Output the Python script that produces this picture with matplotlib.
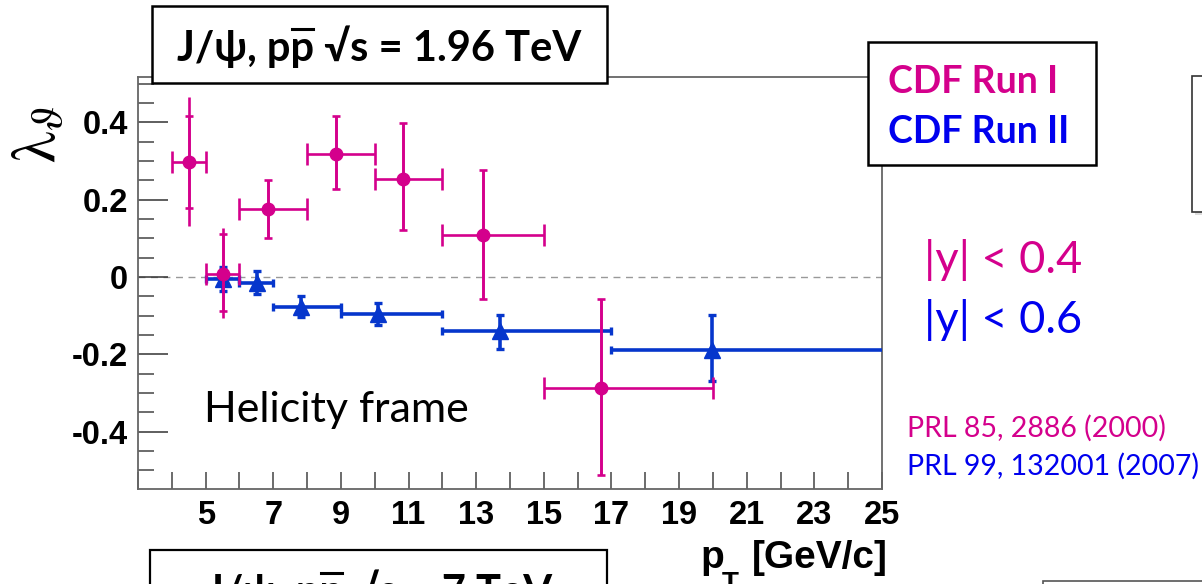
import matplotlib
matplotlib.use("Agg")
import matplotlib.pyplot as plt
from matplotlib.lines import Line2D
from matplotlib.patches import Rectangle
from matplotlib.ticker import MultipleLocator

# CDF Run I (|y| < 0.4), PRL 85, 2886 (2000)
run1_pt = [4.5, 5.5, 6.85, 8.85, 10.83, 13.2, 16.7]
run1_pt_lo = [4, 5, 6, 8, 10, 12, 15]
run1_pt_hi = [5, 6, 8, 10, 12, 15, 20]
run1_lam = [0.297, 0.008, 0.175, 0.319, 0.254, 0.108, -0.287]
run1_stat_up = [0.119, 0.103, 0.077, 0.096, 0.144, 0.168, 0.229]
run1_stat_dn = [0.118, 0.096, 0.073, 0.091, 0.133, 0.166, 0.224]
run1_tot_up = [0.168, 0.119, 0.077, 0.096, 0.144, 0.168, 0.229]
run1_tot_dn = [0.165, 0.113, 0.073, 0.091, 0.133, 0.166, 0.224]

# CDF Run II (|y| < 0.6), PRL 99, 132001 (2007)
run2_pt = [5.52, 6.53, 7.81, 10.11, 13.71, 19.97]
run2_pt_lo = [5, 6, 7, 9, 12, 17]
run2_pt_hi = [6, 7, 9, 12, 17, 30]
run2_lam = [-0.005, -0.015, -0.077, -0.096, -0.140, -0.189]
run2_err_up = [0.032, 0.031, 0.027, 0.030, 0.042, 0.091]
run2_err_dn = [0.030, 0.030, 0.027, 0.028, 0.047, 0.081]

x_ticks = [5, 7, 9, 11, 13, 15, 17, 19, 21, 23, 25]
y_ticks = [-0.4, -0.2, 0, 0.2, 0.4]
y_tick_labels = ['-0.4', '-0.2', '0', '0.2', '0.4']

MAGENTA = '#d4008c'
BLUE = '#0636cc'
TXT_BLUE = '#0000ee'
CAL = ['Lato', 'DejaVu Sans']
ARIAL = ['Liberation Sans', 'DejaVu Sans']

W, H = 1202, 584


def fx(px):
    return px / W


def fy(py):
    return 1 - py / H


def add_box(fig, x0, y0, x1, y1, lw=1.8, color='black'):
    rect = Rectangle((fx(x0), fy(y1)), fx(x1) - fx(x0), fy(y0) - fy(y1),
                     transform=fig.transFigure, facecolor='white',
                     edgecolor=color, linewidth=lw, zorder=2)
    fig.add_artist(rect)


def text_width(fig, s, **kw):
    r = fig.canvas.get_renderer()
    t = fig.text(0, 0, s, **kw)
    w = t.get_window_extent(r).width
    t.remove()
    return w


def pbar_title(fig, cx, base, pre, post, **kw):
    """Draw pre + 'p' + post centred at cx with a bar over the last p of pre."""
    full = pre + post
    w_full = text_width(fig, full, **kw)
    left = cx - w_full / 2
    fig.text(fx(left), fy(base), full, ha='left', va='baseline', **kw)
    x0 = left + text_width(fig, pre[:-1], **kw)
    x1 = left + text_width(fig, pre, **kw)
    fig.add_artist(Line2D([fx(x0 + 2), fx(x1 - 1)], [fy(base - 32)] * 2,
                          color='black', lw=2.2, transform=fig.transFigure,
                          zorder=4))


fig = plt.figure(figsize=(W / 100, H / 100), dpi=100)
ax = fig.add_axes([fx(138), fy(489), fx(882) - fx(138), fy(77) - fy(489)])

ax.set_xlim(3, 25)
ax.set_ylim(-0.548, 0.517)
ax.axhline(0, color='#999999', lw=1, ls=(0, (5, 4)), zorder=1)

# Run II: blue triangles
xerr2 = [[p - lo for p, lo in zip(run2_pt, run2_pt_lo)],
         [hi - p for p, hi in zip(run2_pt, run2_pt_hi)]]
ax.errorbar(run2_pt, run2_lam, xerr=xerr2, fmt='none', ecolor=BLUE,
            elinewidth=2.6, capsize=2.6, capthick=2.4, zorder=3)
ax.errorbar(run2_pt, run2_lam, yerr=[run2_err_dn, run2_err_up], fmt='none',
            ecolor=BLUE, elinewidth=2.6, capsize=2.6, capthick=2.4, zorder=3)
ax.plot(run2_pt, run2_lam, '^', color=BLUE, ms=11, zorder=4)

# Run I: magenta circles
xerr1 = [[p - lo for p, lo in zip(run1_pt, run1_pt_lo)],
         [hi - p for p, hi in zip(run1_pt, run1_pt_hi)]]
ax.errorbar(run1_pt, run1_lam, xerr=xerr1, fmt='none', ecolor=MAGENTA,
            elinewidth=1.9, capsize=8, capthick=1.9, zorder=5)
ax.errorbar(run1_pt, run1_lam, yerr=[run1_tot_dn, run1_tot_up], fmt='none',
            ecolor=MAGENTA, elinewidth=1.9, capsize=0, zorder=5)
ax.errorbar(run1_pt, run1_lam, yerr=[run1_stat_dn, run1_stat_up], fmt='none',
            ecolor=MAGENTA, elinewidth=1.9, capsize=2.6, capthick=1.9, zorder=5)
ax.plot(run1_pt, run1_lam, 'o', color=MAGENTA, ms=9, zorder=6)

for s in ax.spines.values():
    s.set_color('#666666')
    s.set_linewidth(1.3)

ax.set_xticks(x_ticks, [str(v) for v in x_ticks])
ax.xaxis.set_minor_locator(MultipleLocator(1))
ax.set_yticks(y_ticks, y_tick_labels)
ax.yaxis.set_minor_locator(MultipleLocator(0.05))
ax.tick_params(axis='x', which='both', direction='in', length=12, width=1.1,
               color='#444444', pad=8)
ax.tick_params(axis='y', which='major', direction='in', length=21.5, width=1.1,
               color='#333333', pad=7)
ax.tick_params(axis='y', which='minor', direction='in', length=11.5, width=1.1,
               color='#444444')
for lab in ax.get_xticklabels() + ax.get_yticklabels():
    lab.set_family(ARIAL)
    lab.set_fontweight('bold')
    lab.set_fontsize(23.5)

# axis titles
fig.text(fx(38), fy(134), r'$\mathrm{\lambda}_{\vartheta}$', rotation=90,
         fontsize=45, math_fontfamily='stix', ha='center', va='center')
fig.text(fx(888), fy(568), '[GeV/c]', ha='right', va='baseline',
         fontsize=28, fontweight='bold', family=ARIAL)
fig.text(fx(700), fy(568), 'p', ha='left', va='baseline',
         fontsize=28, fontweight='bold', family=ARIAL)
fig.text(fx(722), fy(571), 'T', ha='left', va='top',
         fontsize=20, fontweight='bold', family=ARIAL)

# boxes
title_kw = dict(fontsize=30, fontweight='bold', family=CAL)
add_box(fig, 152, 6, 607, 83)
pbar_title(fig, 379, 61, 'J/ψ, pp', ' √s = 1.96 TeV', **title_kw)
add_box(fig, 868, 42, 1096, 165)
fig.text(fx(888), fy(93), 'CDF Run I', ha='left', va='baseline',
         fontsize=27, fontweight='bold', color=MAGENTA, family=CAL)
fig.text(fx(888), fy(143), 'CDF Run II', ha='left', va='baseline',
         fontsize=27, fontweight='bold', color=TXT_BLUE, family=CAL)
add_box(fig, 150, 550, 607, 610, lw=1.6)
pbar_title(fig, 379, 605, 'J/ψ, pp', ' √s = 7 TeV', **title_kw)
fig.add_artist(Rectangle((fx(1195), fy(215)), fx(30), fy(0) - fy(136),
                         transform=fig.transFigure, facecolor='#dddddd',
                         edgecolor='none', zorder=1))
add_box(fig, 1192, 76, 1215, 212, lw=1.2, color='#333333')
add_box(fig, 1043, 581, 1215, 610, lw=1.2, color='#555555')

# annotations
fig.text(fx(204), fy(422), 'Helicity frame', ha='left', va='baseline',
         fontsize=31, family=CAL)
fig.text(fx(924), fy(273), '|y| < 0.4', ha='left', va='baseline',
         fontsize=32.5, color=MAGENTA, family=CAL)
fig.text(fx(924), fy(333), '|y| < 0.6', ha='left', va='baseline',
         fontsize=32.5, color=TXT_BLUE, family=CAL)
fig.text(fx(907), fy(437), 'PRL 85, 2886 (2000)', ha='left', va='baseline',
         fontsize=20.5, color=MAGENTA, family=CAL)
fig.text(fx(907), fy(475), 'PRL 99, 132001 (2007)', ha='left', va='baseline',
         fontsize=20.5, color=TXT_BLUE, family=CAL)

fig.savefig('out.png', dpi=100)
